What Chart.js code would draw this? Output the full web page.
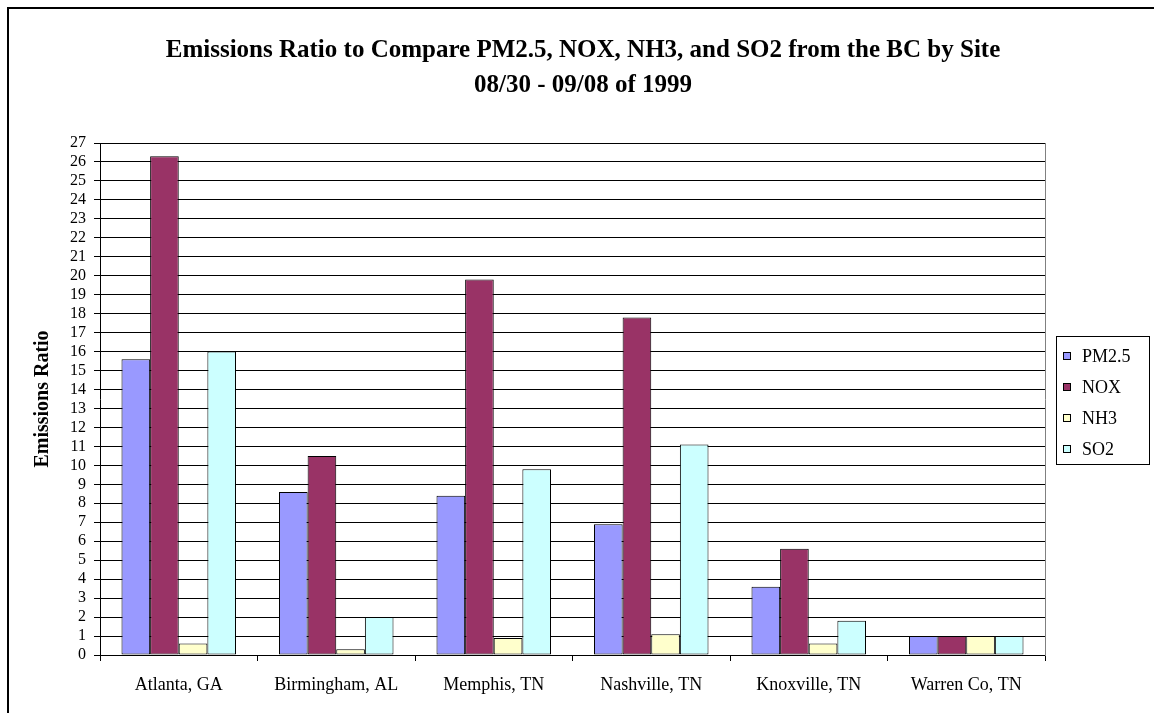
<!DOCTYPE html>
<html>
<head>
<meta charset="utf-8">
<script src="https://cdn.jsdelivr.net/npm/chart.js@4.4.1/dist/chart.umd.min.js"></script>
<style>
  html, body { margin: 0; padding: 0; background: #fff; }
  #wrap { width: 1154px; height: 713px; }
</style>
</head>
<body>
<div id="wrap"><canvas id="chart" width="1154" height="713"></canvas></div>
<script>
// Sites and per-pollutant emission ratios
const sites = ['Atlanta, GA', 'Birmingham, AL', 'Memphis, TN', 'Nashville, TN', 'Knoxville, TN', 'Warren Co, TN'];
const pm25 = [15.6, 8.6, 8.4, 6.9, 3.6, 1.0];
const nox  = [26.3, 10.5, 19.8, 17.8, 5.6, 1.0];
const nh3  = [0.6, 0.3, 0.9, 1.1, 0.6, 1.0];
const so2  = [16.0, 2.0, 9.8, 11.1, 1.8, 1.0];
const seriesNames = ['PM2.5', 'NOX', 'NH3', 'SO2'];
const seriesColors = ['#9999FF', '#993366', '#FFFFCC', '#CCFFFF'];
const yMax = 27;
const titleLines = ['Emissions Ratio to Compare PM2.5, NOX, NH3, and SO2 from the BC by Site', '08/30 - 09/08 of 1999'];
const yTitle = 'Emissions Ratio';

const SERIF = '"Liberation Serif", "Times New Roman", serif';
const seriesValues = [pm25, nox, nh3, so2];

// Page frame and boxed legend drawn on top of the chart
const framePlugin = {
  id: 'frame',
  beforeDraw(chart) {
    const ctx = chart.ctx;
    ctx.save();
    ctx.fillStyle = '#fff';
    ctx.fillRect(0, 0, chart.width, chart.height);
    ctx.restore();
  },
  afterDraw(chart) {
    const ctx = chart.ctx;
    ctx.save();
    // outer frame (left and top edges)
    ctx.strokeStyle = '#000';
    ctx.lineWidth = 2;
    ctx.beginPath();
    ctx.moveTo(8, chart.height);
    ctx.lineTo(8, 8);
    ctx.lineTo(chart.width, 8);
    ctx.stroke();

    // legend box
    const bx = 1056.5, by = 336.5, bw = 93, bh = 128;
    ctx.lineWidth = 1;
    ctx.strokeRect(bx, by, bw, bh);
    ctx.font = '18px ' + SERIF;
    ctx.textBaseline = 'middle';
    ctx.textAlign = 'left';
    chart.data.datasets.forEach((ds, i) => {
      const cy = 356 + i * 31;
      ctx.fillStyle = ds.backgroundColor;
      ctx.fillRect(1063, cy - 4, 8, 8);
      ctx.strokeStyle = '#000';
      ctx.strokeRect(1063.5, cy - 3.5, 7, 7);
      ctx.fillStyle = '#000';
      ctx.fillText(ds.label, 1082, cy + 1);
    });
    ctx.restore();
  }
};

new Chart(document.getElementById('chart'), {
  type: 'bar',
  data: {
    labels: sites,
    datasets: seriesNames.map((name, i) => ({
      label: name,
      data: seriesValues[i],
      backgroundColor: seriesColors[i],
      borderColor: '#000',
      borderWidth: 1,
      borderSkipped: false,
      categoryPercentage: 0.727,
      barPercentage: 1.0
    }))
  },
  options: {
    responsive: false,
    animation: false,
    devicePixelRatio: 1,
    layout: { padding: { left: 12, right: 0, top: 0, bottom: 0 } },
    plugins: {
      legend: { display: false },
      tooltip: { enabled: false },
      title: {
        display: true,
        text: titleLines,
        color: '#000',
        font: { family: SERIF, size: 25, weight: 'bold', lineHeight: 1.4 },
        padding: { top: 33, bottom: 40 }
      }
    },
    scales: {
      x: {
        grid: { display: true, offset: true, drawOnChartArea: false, drawTicks: true, tickLength: 6, color: '#000', lineWidth: 1 },
        border: { display: true, color: '#000', width: 1 },
        ticks: { color: '#000', font: { family: SERIF, size: 18 }, padding: 13, maxRotation: 0, autoSkip: false },
        afterFit(scale) { scale.height = 58; }
      },
      y: {
        min: 0,
        max: yMax,
        grid: { color: '#000', lineWidth: 1, tickLength: 6, drawTicks: true },
        border: { display: true, color: '#000', width: 1 },
        ticks: { stepSize: 1, autoSkip: false, color: '#000', font: { family: SERIF, size: 16 }, padding: 8 },
        title: {
          display: true,
          text: yTitle,
          color: '#000',
          font: { family: SERIF, size: 20, weight: 'bold' },
          padding: { top: 19, bottom: 0 }
        },
        afterFit(scale) { scale.width = 88; }
      },
      y2: {
        position: 'right',
        display: true,
        grid: { display: false },
        ticks: { display: false },
        border: { display: true, color: '#808080', width: 1 },
        afterFit(scale) { scale.width = 109; }
      }
    }
  },
  plugins: [framePlugin]
});
</script>
</body>
</html>
